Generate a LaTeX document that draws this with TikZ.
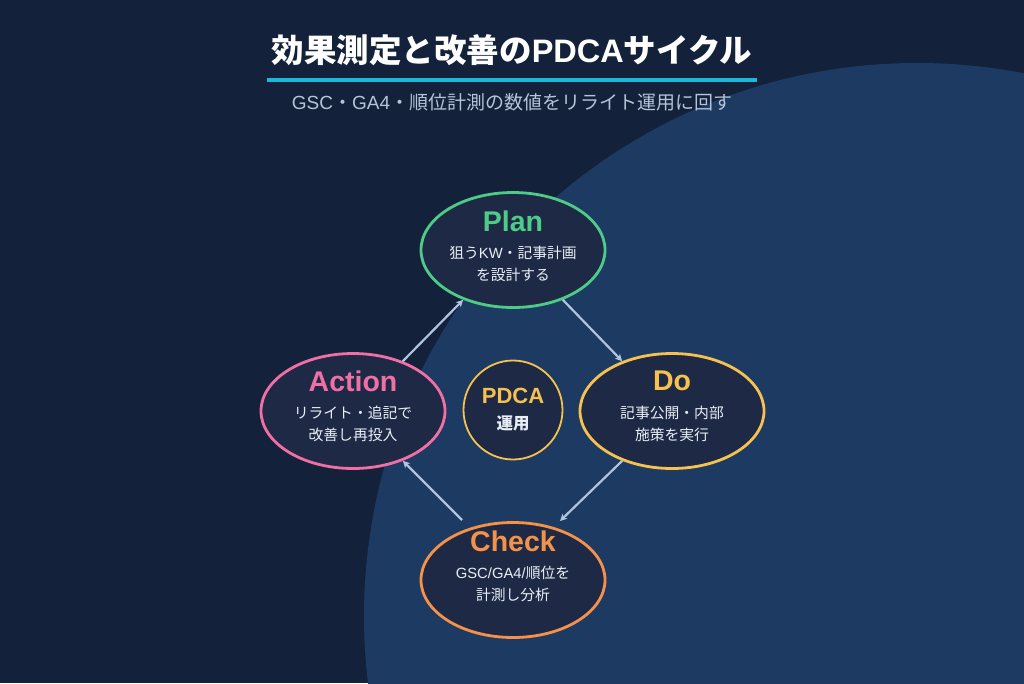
\documentclass[tikz,border=0pt]{standalone}
\usepackage{fontspec}
\setmainfont{Noto Sans CJK JP}
\newfontfamily\latin{Liberation Sans}
\usetikzlibrary{shapes.geometric,arrows.meta}
\definecolor{bgnavy}{HTML}{13213A}
\definecolor{blob}{HTML}{1D3A63}
\definecolor{nodefill}{HTML}{1E2A45}
\definecolor{plangreen}{HTML}{4FCB88}
\definecolor{dopink}{HTML}{F06FA5}
\definecolor{doyellow}{HTML}{F6C24F}
\definecolor{chkorange}{HTML}{F5924A}
\definecolor{rulecyan}{HTML}{1BB8DA}
\definecolor{subgray}{HTML}{B6C4D8}
\definecolor{arrowblue}{HTML}{AFC4DE}
\definecolor{bodywhite}{HTML}{E9EEF6}
\tikzset{
  phase/.style={ellipse, draw, line width=2.8pt, fill=nodefill,
    minimum width=184pt, minimum height=115pt, inner sep=0pt},
  phasetitle/.style={font=\latin\fontsize{28.5}{30}\selectfont\bfseries},
  phasebody/.style={font=\fontsize{14.8}{22}\selectfont, text=bodywhite, align=center},
  cyclearrow/.style={draw=arrowblue, line width=2.2pt,
    -{Stealth[length=7pt,width=7pt,inset=2pt]}}
}
\begin{document}
\begin{tikzpicture}[x=1pt,y=-1pt]
  % canvas and backdrop disc
  \fill[bgnavy] (0,0) rectangle (1024,683);
  \useasboundingbox (0,0) rectangle (1024,683);
  \begin{scope}
    \clip (0,0) rectangle (1024,683);
    \fill[blob] (917,616) circle[radius=553];
  \end{scope}

  % heading
  \node[text=white, font=\fontsize{32.5}{35}\selectfont\bfseries] (title) at (512,50)
    {効果測定と改善の{\latin\bfseries PDCA}サイクル};
  \draw[rulecyan, line width=3.6pt] (267,80) -- (757,80);
  \node[text=subgray, font=\fontsize{19}{22}\selectfont] (subtitle) at (512,102)
    {{\latin GSC}・{\latin GA4}・順位計測の数値をリライト運用に回す};

  % four phases
  \node[phase, draw=plangreen] (plan) at (513,250) {};
  \node[phase, draw=doyellow] (do) at (672,411) {};
  \node[phase, draw=chkorange] (check) at (513,580) {};
  \node[phase, draw=dopink] (action) at (353,411) {};

  \node[phasetitle, text=plangreen] (plant) at (513,221) {Plan};
  \node[phasebody] (planb) at (513,264) {狙う{\latin KW}・記事計画\\を設計する};
  \node[phasetitle, text=doyellow] (dot) at (672,381) {Do};
  \node[phasebody] (dob) at (672,424) {記事公開・内部\\施策を実行};
  \node[phasetitle, text=chkorange] (checkt) at (513,541) {Check};
  \node[phasebody] (checkb) at (513,584) {{\latin GSC/GA4/}順位を\\計測し分析};
  \node[phasetitle, text=dopink] (actiont) at (353,381) {Action};
  \node[phasebody] (actionb) at (353,424) {リライト・追記で\\改善し再投入};

  % hub
  \node[circle, draw=doyellow, line width=1.8pt, fill=nodefill,
    minimum size=99pt, inner sep=0pt] (hub) at (513,410) {};
  \node[text=doyellow, font=\latin\fontsize{22}{24}\selectfont\bfseries] (hubt) at (513,396) {PDCA};
  \node[text=bodywhite, font=\fontsize{16.5}{18}\selectfont\bfseries] (hubb) at (513,423) {運用};

  % cycle: the two legs at Check stop short of its rim
  \draw[cyclearrow] (plan.-45) -- (do.135);
  \draw[cyclearrow] (do.-135) -- ([shift={(47,-59)}]check.center);
  \draw[cyclearrow] ([shift={(-51,-60)}]check.center) -- (action.-45);
  \draw[cyclearrow] (action.45) -- (plan.-135);
\end{tikzpicture}
\end{document}
